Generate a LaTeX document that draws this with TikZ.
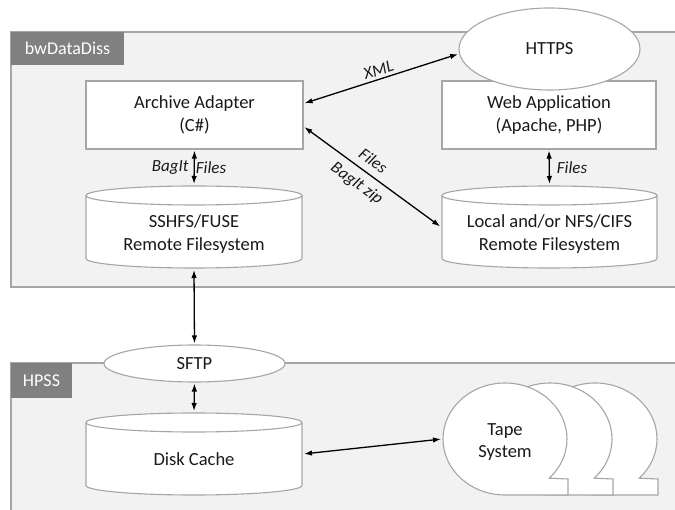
\documentclass[tikz,border=0pt]{standalone}
\usepackage{fontspec}
\setmainfont{Carlito}
\usetikzlibrary{arrows.meta,shapes.geometric}
\definecolor{panelfill}{HTML}{F2F2F2}
\definecolor{panelline}{HTML}{A6A6A6}
\definecolor{labelfill}{HTML}{808080}
\definecolor{shapeline}{HTML}{A6A6A6}
\definecolor{txt}{HTML}{1A1A1A}
\tikzset{
  panel/.style={fill=panelfill,draw=panelline,line width=1.2pt},
  tag/.style={fill=labelfill,draw=none,text=white,font=\fontsize{18}{21}\selectfont,inner sep=0pt},
  box/.style={draw=shapeline,fill=white,line width=1.1pt,text=txt,align=center,inner sep=0pt,
    font=\fontsize{18.5}{22.5}\selectfont},
  cyl/.style={draw=shapeline,fill=white,line width=1.1pt},
  hole/.style={draw=none,inner sep=0pt,outer sep=1pt,text=txt,align=center,font=\fontsize{18.5}{22.5}\selectfont},
  oval/.style={ellipse,draw=shapeline,fill=white,line width=1.1pt,text=txt,inner sep=0pt,
    font=\fontsize{18.5}{22.5}\selectfont},
  conn/.style={line width=1.3pt,{Latex[length=8pt,width=5.5pt]}-{Latex[length=8pt,width=5.5pt]},shorten <=1pt,shorten >=1pt},
  lbl/.style={font=\fontsize{17}{20}\selectfont\itshape,text=txt,inner sep=1pt},
  tapeshape/.style={draw=shapeline,fill=white,line width=1.1pt}
}
\newcommand{\drawcyl}[4]{% left, right, top, bottom (px, downward)
  \path[cyl] (#1,-#3-9.5) -- (#1,-#4+9.5) arc (180:360:{(#2-#1)/2} and 9.5) -- (#2,-#3-9.5)
     arc (0:180:{(#2-#1)/2} and 9.5) -- cycle;
  \draw[cyl,fill=none] (#1,-#3-9.5) arc (180:360:{(#2-#1)/2} and 9.5);
}
\newcommand{\drawtape}[1]{% x offset
  \path[tapeshape] ({505+#1},-495) arc (270:-44.4:62 and 56) -- ({568+#1},-479) -- ({568+#1},-495) -- cycle;
}
\begin{document}
\begin{tikzpicture}[x=1pt,y=1pt]
\useasboundingbox (0,0) rectangle (675,-510);
% panels
\path[panel] (11,-32) rectangle (680,-287);
\node[tag,minimum width=113pt,minimum height=33pt] (tagA) at (67.5,-48.5) {bwDataDiss};
\path[panel] (11,-363) rectangle (680,-520);
\node[tag,minimum width=61pt,minimum height=35pt] (tagB) at (41.5,-380.5) {HPSS};
% boxes
\node[box,minimum width=217pt,minimum height=68pt] (aa) at (194.5,-115) {Archive Adapter\\(C\#)};
\node[box,minimum width=214pt,minimum height=68pt] (web) at (549,-115) {Web Application\\(Apache, PHP)};
\node[oval,minimum width=181pt,minimum height=82pt] (https) at (549.5,-49) {HTTPS};
% cylinders
\drawcyl{86}{302}{186}{268}
\node[hole,minimum width=216pt,minimum height=82pt] (sshfs) at (194,-227) {};
\node[hole] (sshfstxt) at (194,-234) {SSHFS/FUSE\\Remote Filesystem};
\drawcyl{442}{657}{186}{268}
\node[hole,minimum width=215pt,minimum height=82pt] (local) at (549.5,-227) {};
\node[hole] (localtxt) at (549.5,-234) {Local and/or NFS/CIFS\\Remote Filesystem};
\drawcyl{86}{302}{413}{495}
\node[hole,minimum width=216pt,minimum height=82pt] (disk) at (194,-454) {};
\node[hole] (disktxt) at (194,-459) {Disk Cache};
% SFTP
\node[oval,minimum width=181pt,minimum height=37pt] (sftp) at (194.5,-363.5) {SFTP};
% tape system
\drawtape{90}
\drawtape{45}
\drawtape{0}
\node[hole,minimum width=124pt,minimum height=112pt] (tape) at (505,-439) {};
\node[hole] (tapetxt) at (505,-442) {Tape\\System};
% connectors
\draw[conn] (aa.6) -- node[lbl,sloped,above=2pt] {XML} (https.183);
\draw[conn] (aa.-6) -- node[lbl,sloped,above=7pt,pos=0.45,inner sep=0pt] {Files} node[lbl,sloped,below=7pt,pos=0.45,inner sep=0pt] {BagIt zip} (local.west);
\draw[conn] (aa.south) -- node[lbl,left=4pt] {BagIt} node[lbl,right=0pt] {Files} (sshfs.north);
\draw[conn] (web.south) -- node[lbl,right=6pt] {Files} (local.north);
\draw[conn] (sshfs.south) -- (sftp.north);
\draw[conn] (sftp.south) -- (disk.north);
\draw[conn] (disk.east) -- (tape.west);
\end{tikzpicture}
\end{document}
